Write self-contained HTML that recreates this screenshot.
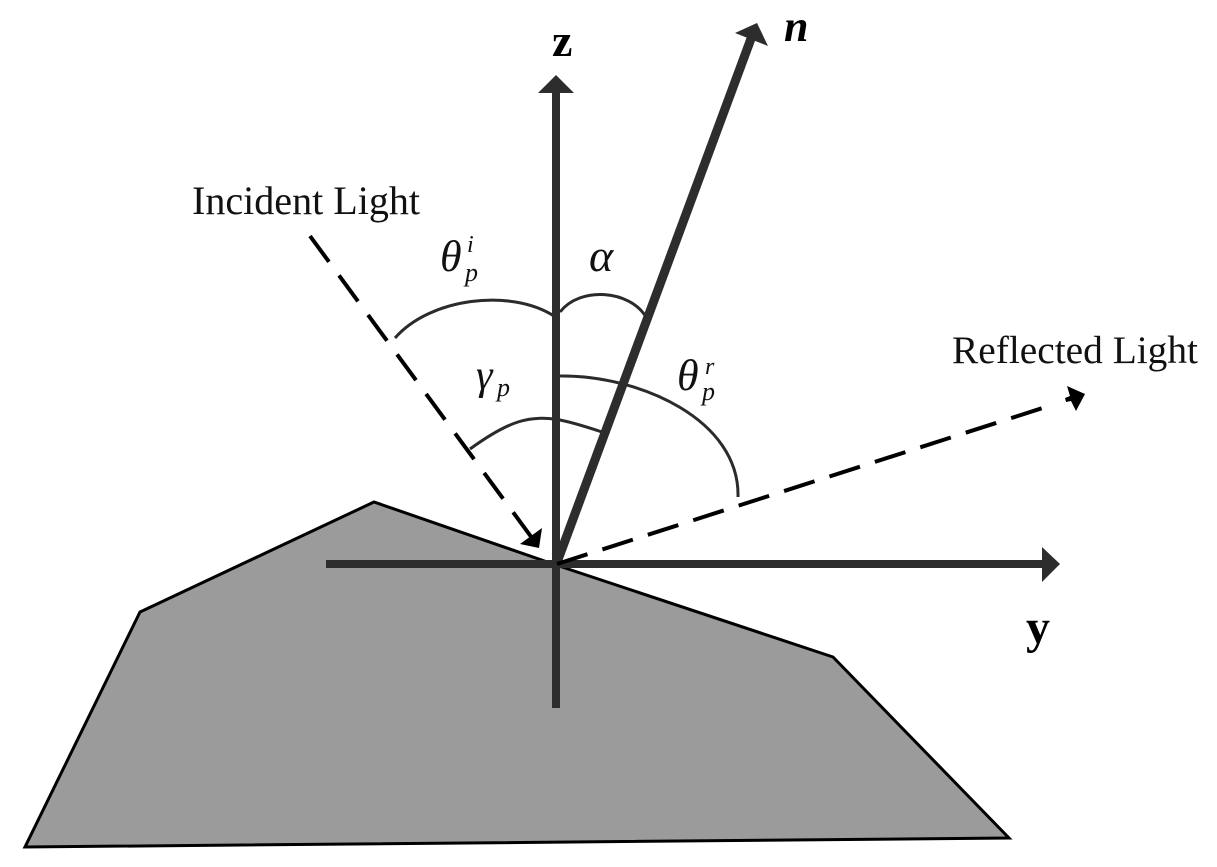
<!DOCTYPE html>
<html>
<head>
<meta charset="utf-8">
<style>
html,body{margin:0;padding:0;background:#fff;width:1217px;height:867px;overflow:hidden}
svg{display:block}
text{font-family:"Liberation Serif",serif}
</style>
</head>
<body>
<svg width="1217" height="867" viewBox="0 0 1217 867" xmlns="http://www.w3.org/2000/svg">
<polygon points="374,502 140,612 25,847 1009,838 833,657 556,565" fill="#9b9b9b" stroke="#000" stroke-width="3" stroke-linejoin="miter"/>
<g fill="none" stroke="#2b2b2b" stroke-width="3">
<path d="M395,338C430,298 510,288 554,316"/>
<path d="M560,312C580,286 630,290 646,317"/>
<path d="M560,376C640,375 740,420 738,497"/>
<path d="M470,449C510,420 530,415 560,420C575,423 590,428 602,432"/>
</g>
<g stroke="#2d2d2d" stroke-width="8" fill="none">
<line x1="556" y1="90" x2="556" y2="708"/>
<line x1="326" y1="564" x2="1045" y2="564"/>
<line x1="556" y1="565" x2="752" y2="36" stroke-width="9"/>
</g>
<g fill="#2d2d2d">
<polygon points="556,75 538,93 574,93"/>
<polygon points="1060,564 1042,547 1042,582"/>
<polygon points="757,23 735,33 768,46"/>
</g>
<g stroke="#000" stroke-width="4" fill="none">
<line x1="310" y1="236" x2="532" y2="538" stroke-dasharray="32 17"/>
<line x1="557" y1="564" x2="1052" y2="405" stroke-dasharray="32 15.7"/>
</g>
<polygon points="539,548 520,544 542,528" fill="#000"/>
<polygon points="1067,386 1085,394 1076,411 1071,401 1066,402 1065,398 1070,396" fill="#000"/>
<text x="192" y="214" font-size="40" textLength="228" lengthAdjust="spacingAndGlyphs" fill="#111">Incident Light</text>
<text x="952" y="363" font-size="39" textLength="246" lengthAdjust="spacingAndGlyphs" fill="#111">Reflected Light</text>
<text x="552" y="56" font-size="46" font-weight="bold" fill="#000">z</text>
<text x="784" y="41" font-size="44" font-weight="bold" font-style="italic" fill="#000">n</text>
<text x="1026" y="643" font-size="48" font-weight="bold" fill="#000">y</text>
<g font-style="italic" fill="#111">
<text x="440" y="271" font-size="44">θ</text>
<text x="467" y="252" font-size="24">i</text>
<text x="465" y="281" font-size="26">p</text>
<text x="589" y="271" font-size="46">α</text>
<text x="476" y="389" font-size="42">γ</text>
<text x="497" y="396" font-size="26">p</text>
<text x="677" y="390" font-size="44">θ</text>
<text x="705" y="374" font-size="24">r</text>
<text x="702" y="400" font-size="26">p</text>
</g>
</svg>
</body>
</html>
